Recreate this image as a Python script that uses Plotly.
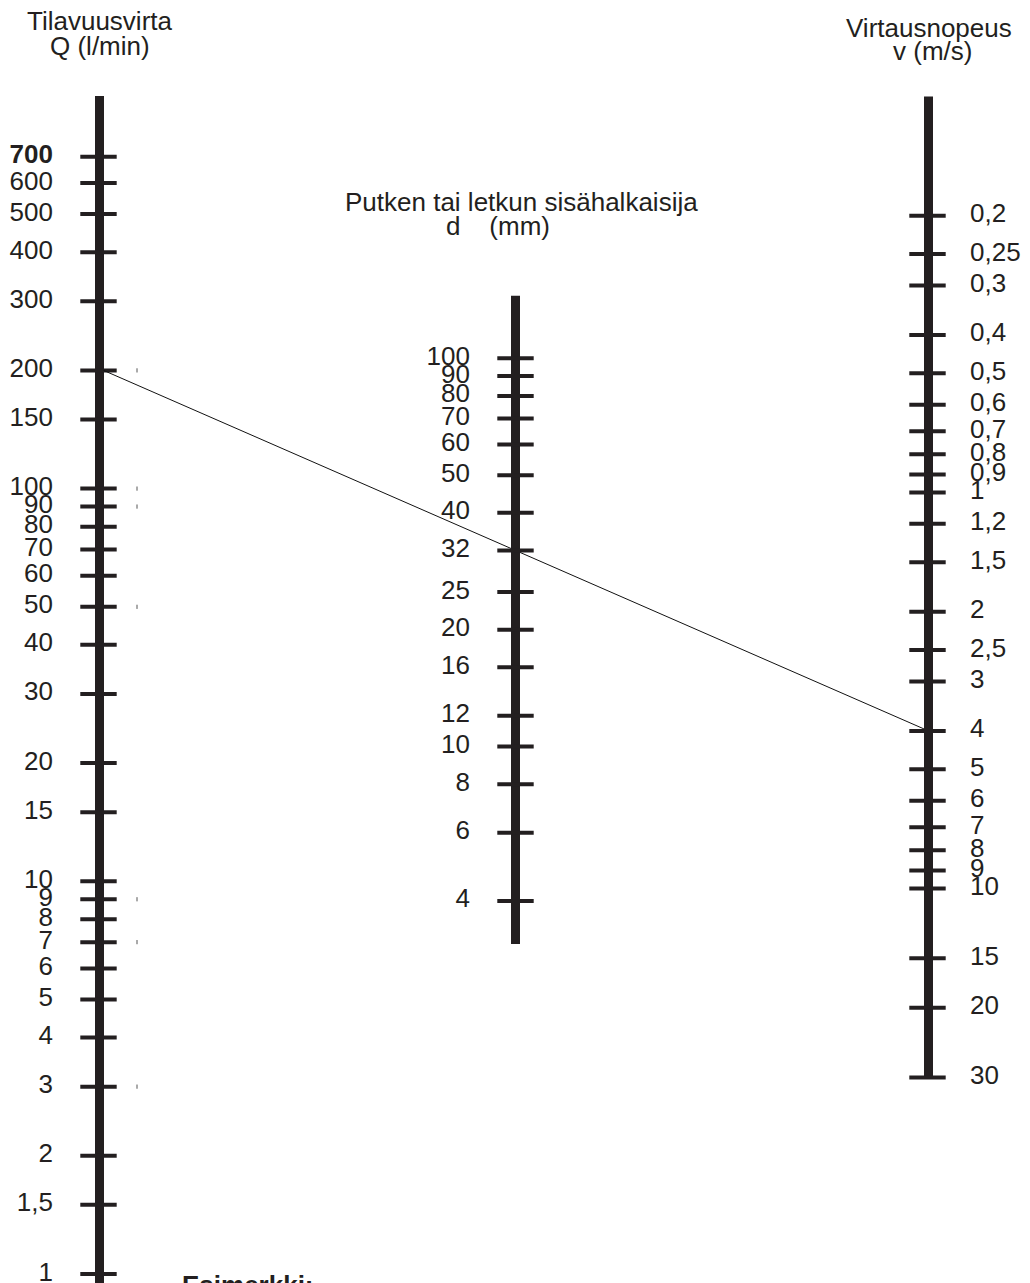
import numpy as np
import plotly.graph_objects as go

# ---------------- data ----------------
Q_ticks = [1, 1.5, 2, 3, 4, 5, 6, 7, 8, 9, 10, 15, 20, 30, 40, 50, 60, 70, 80, 90,
           100, 150, 200, 300, 400, 500, 600, 700]
Q_labels = ["1", "1,5", "2", "3", "4", "5", "6", "7", "8", "9", "10", "15", "20", "30",
            "40", "50", "60", "70", "80", "90", "100", "150", "200", "300", "400",
            "500", "600", "<b>700</b>"]
d_ticks = [4, 6, 8, 10, 12, 16, 20, 25, 32, 40, 50, 60, 70, 80, 90, 100]
d_labels = ["4", "6", "8", "10", "12", "16", "20", "25", "32", "40", "50", "60",
            "70", "80", "90", "100"]
v_ticks = [0.2, 0.25, 0.3, 0.4, 0.5, 0.6, 0.7, 0.8, 0.9, 1, 1.2, 1.5, 2, 2.5, 3,
           4, 5, 6, 7, 8, 9, 10, 15, 20, 30]
v_labels = ["0,2", "0,25", "0,3", "0,4", "0,5", "0,6", "0,7", "0,8", "0,9", "1",
            "1,2", "1,5", "2", "2,5", "3", "4", "5", "6", "7", "8", "9", "10",
            "15", "20", "30"]
Q_span = [0.9, 1000]      # extent of the Q scale bar
d_span = [3.1, 145]       # extent of the d scale bar
v_span = [0.1, 30]        # extent of the v scale bar
example_Q = 200           # example: Q = 200 l/min
example_v = 4             # example: v = 4 m/s  (-> d = 32 mm)
faint_Q = [200, 100, 90, 50, 9, 7, 3]

# ---------------- layout constants ----------------
W, H = 1030, 1283
INK = "#231f20"
FONT = "Liberation Sans, Arial, sans-serif"
FS = 26
XQ, XD, XV = 99.5, 515.5, 928.5
Q_range = [-0.0229, 3.2442]          # log10 units, bottom -> top
d_range = [-0.382, 2.923]
v_range = [1.9962, -1.2437]          # reversed: large values at bottom


def paper_y(py):
    return 1 - py / H


fig = go.Figure()

# scale bars
for x0, span, ya in [(XQ, Q_span, "y"), (XD, d_span, "y2"), (XV, v_span, "y3")]:
    fig.add_trace(go.Scatter(x=[x0, x0], y=span, yaxis=ya, mode="lines",
                             line=dict(color=INK, width=9), hoverinfo="skip",
                             showlegend=False, cliponaxis=True))

# tick marks crossing the bars
for x0, ticks, ya in [(XQ - 1, Q_ticks, "y"), (XD, d_ticks, "y2"), (XV - 1, v_ticks, "y3")]:
    fig.add_trace(go.Scatter(x=[x0] * len(ticks), y=ticks, yaxis=ya, mode="markers",
                             marker=dict(symbol="line-ew", size=26,
                                         line=dict(color=INK, width=4)),
                             hoverinfo="skip", showlegend=False))

# faint marks next to the Q scale
fig.add_trace(go.Scatter(x=[137] * len(faint_Q), y=faint_Q, yaxis="y", mode="markers",
                         marker=dict(symbol="line-ns", size=3,
                                     line=dict(color="#555555", width=1)),
                         hoverinfo="skip", showlegend=False))

# tick labels
fig.add_trace(go.Scatter(x=[53] * len(Q_ticks), y=Q_ticks, yaxis="y", mode="text",
                         text=Q_labels, textposition="middle left",
                         textfont=dict(family=FONT, size=FS, color=INK),
                         hoverinfo="skip", showlegend=False))
fig.add_trace(go.Scatter(x=[470] * len(d_ticks), y=d_ticks, yaxis="y2", mode="text",
                         text=d_labels, textposition="middle left",
                         textfont=dict(family=FONT, size=FS, color=INK),
                         hoverinfo="skip", showlegend=False))
fig.add_trace(go.Scatter(x=[970] * len(v_ticks), y=v_ticks, yaxis="y3", mode="text",
                         text=v_labels, textposition="middle right",
                         textfont=dict(family=FONT, size=FS, color=INK),
                         hoverinfo="skip", showlegend=False))

# example line from Q to v, expressed in Q-axis units
frac_v = (np.log10(example_v) - v_range[0]) / (v_range[1] - v_range[0])
Q_equiv = 10 ** (Q_range[0] + frac_v * (Q_range[1] - Q_range[0]))
fig.add_trace(go.Scatter(x=[XQ + 4, XV], y=[example_Q, Q_equiv], yaxis="y",
                         mode="lines", line=dict(color="#111111", width=1),
                         hoverinfo="skip", showlegend=False))

# titles
def title(text, x, py, xanchor="center"):
    fig.add_annotation(text=text, x=x, xref="x", y=paper_y(py), yref="paper",
                       xanchor=xanchor, yanchor="middle", showarrow=False,
                       font=dict(family=FONT, size=FS, color=INK))

title("Tilavuusvirta", 100, 21)
title("Q (l/min)", 100, 46)
title("Virtausnopeus", 929, 28)
title("v (m/s)", 932, 51)
title("Putken tai letkun sisähalkaisija", 521, 202)
title("d\u00a0\u00a0\u00a0\u00a0(mm)", 498, 226)
fig.add_annotation(text="<b>Esimerkki:</b>", x=180, xref="x", y=paper_y(1268), yref="paper",
                   xanchor="left", yanchor="top", showarrow=False,
                   font=dict(family=FONT, size=FS, color=INK))

hidden = dict(visible=False, showgrid=False, zeroline=False, fixedrange=True)
fig.update_layout(
    width=W, height=H,
    margin=dict(l=0, r=0, t=0, b=0, pad=0),
    paper_bgcolor="white", plot_bgcolor="white",
    showlegend=False,
    xaxis=dict(range=[0, W], **hidden),
    yaxis=dict(type="log", range=Q_range, domain=[0, 1], **hidden),
    yaxis2=dict(type="log", range=d_range, overlaying="y", **hidden),
    yaxis3=dict(type="log", range=v_range, overlaying="y", **hidden),
)

fig.write_html("out.html", config={"displayModeBar": False},
               post_script="document.body.style.margin='0px';"
                           "document.body.style.overflow='hidden';")
